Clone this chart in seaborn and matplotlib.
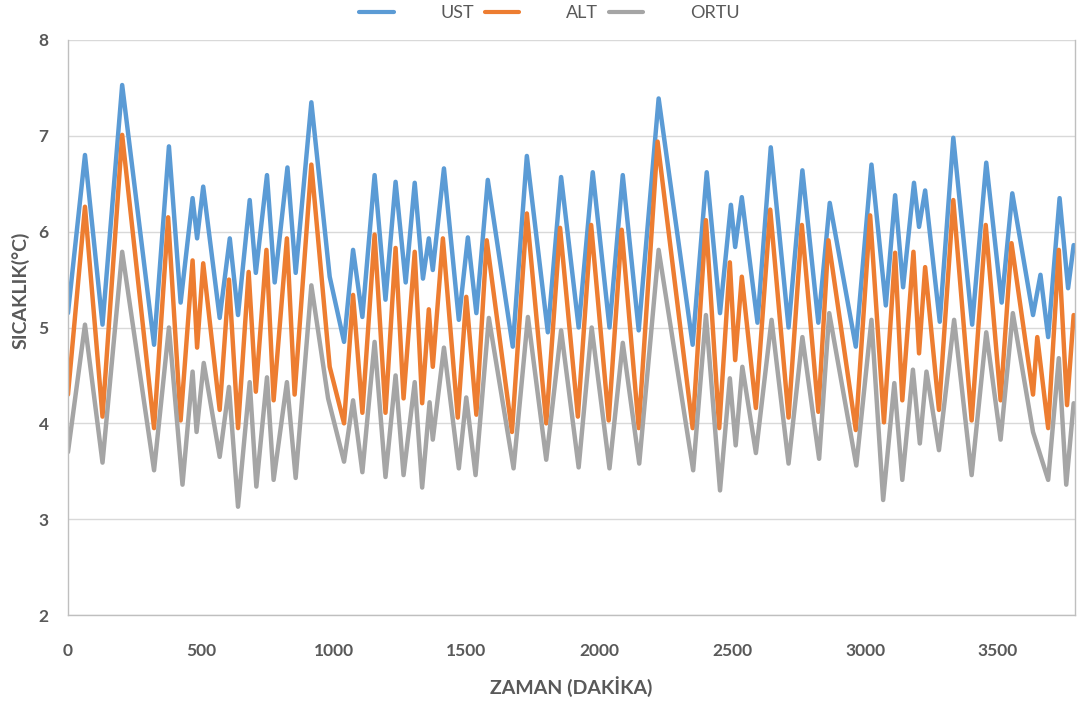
import matplotlib
matplotlib.use("Agg")
import matplotlib.pyplot as plt
import seaborn as sns
import pandas as pd
from matplotlib.lines import Line2D

# Temperature readings (minute, °C) at the turning points of each sensor trace
ust = [(0, 5.15), (64, 6.8), (130, 5.03), (204, 7.53), (324, 4.82), (380, 6.89), (424, 5.26),
       (469, 6.35), (486, 5.93), (509, 6.47), (571, 5.1), (609, 5.93), (640, 5.13), (684, 6.33),
       (707, 5.57), (749, 6.59), (778, 5.47), (826, 6.67), (857, 5.57), (916, 7.35), (985, 5.53),
       (1039, 4.85), (1073, 5.81), (1108, 5.11), (1154, 6.59), (1195, 5.29), (1233, 6.52),
       (1271, 5.47), (1305, 6.51), (1336, 5.51), (1358, 5.93), (1373, 5.6), (1415, 6.66),
       (1471, 5.08), (1505, 5.94), (1537, 5.15), (1580, 6.54), (1674, 4.8), (1727, 6.79),
       (1806, 4.95), (1856, 6.57), (1922, 5.0), (1975, 6.62), (2038, 5.0), (2088, 6.59),
       (2148, 4.97), (2223, 7.39), (2351, 4.82), (2404, 6.62), (2454, 5.15), (2495, 6.28),
       (2511, 5.84), (2536, 6.36), (2595, 5.05), (2645, 6.88), (2712, 5.0), (2764, 6.64),
       (2824, 5.05), (2867, 6.3), (2965, 4.8), (3024, 6.7), (3078, 5.23), (3113, 6.38),
       (3143, 5.42), (3184, 6.51), (3203, 6.05), (3226, 6.43), (3281, 5.06), (3332, 6.98),
       (3403, 5.03), (3456, 6.72), (3514, 5.26), (3554, 6.4), (3632, 5.13), (3660, 5.55),
       (3689, 4.9), (3732, 6.35), (3764, 5.41), (3785, 5.86)]

alt = [(0, 4.3), (64, 6.26), (130, 4.07), (204, 7.01), (324, 3.95), (377, 6.15), (424, 4.03),
       (469, 5.7), (486, 4.79), (509, 5.67), (571, 4.14), (606, 5.5), (640, 3.95), (680, 5.58),
       (707, 4.33), (747, 5.81), (774, 4.24), (824, 5.93), (853, 4.3), (916, 6.7), (985, 4.59),
       (1039, 4.0), (1073, 5.34), (1108, 4.11), (1154, 5.97), (1195, 4.11), (1233, 5.83),
       (1263, 4.26), (1305, 5.79), (1333, 4.21), (1358, 5.19), (1373, 4.59), (1411, 5.93),
       (1467, 4.06), (1499, 5.32), (1537, 4.09), (1576, 5.91), (1671, 3.91), (1727, 6.19),
       (1800, 4.0), (1852, 6.04), (1919, 4.07), (1969, 6.07), (2035, 4.03), (2084, 6.02),
       (2148, 3.95), (2219, 6.94), (2351, 3.95), (2401, 6.12), (2451, 3.95), (2491, 5.68),
       (2511, 4.66), (2536, 5.53), (2589, 4.16), (2643, 6.23), (2712, 4.06), (2762, 6.07),
       (2824, 4.12), (2862, 5.91), (2965, 3.93), (3019, 6.17), (3071, 4.01), (3113, 5.78),
       (3140, 4.24), (3182, 5.79), (3203, 4.73), (3226, 5.63), (3278, 4.14), (3332, 6.33),
       (3401, 4.03), (3454, 6.07), (3510, 4.24), (3551, 5.88), (3632, 4.3), (3648, 4.9),
       (3689, 3.95), (3729, 5.81), (3760, 4.19), (3785, 5.13)]

ortu = [(0, 3.7), (64, 5.03), (130, 3.59), (204, 5.79), (324, 3.51), (380, 5.0), (431, 3.36),
        (469, 4.54), (484, 3.91), (511, 4.63), (571, 3.65), (606, 4.38), (640, 3.13), (684, 4.43),
        (709, 3.34), (749, 4.48), (774, 3.41), (824, 4.43), (857, 3.43), (916, 5.44), (979, 4.26),
        (1039, 3.6), (1073, 4.24), (1108, 3.49), (1154, 4.85), (1195, 3.44), (1233, 4.5),
        (1263, 3.46), (1305, 4.43), (1333, 3.33), (1361, 4.22), (1373, 3.83), (1415, 4.79),
        (1471, 3.53), (1499, 4.27), (1534, 3.46), (1584, 5.1), (1677, 3.53), (1731, 5.11),
        (1800, 3.62), (1856, 4.97), (1922, 3.54), (1971, 5.0), (2038, 3.53), (2088, 4.84),
        (2150, 3.58), (2223, 5.81), (2353, 3.51), (2401, 5.13), (2454, 3.3), (2491, 4.47),
        (2513, 3.77), (2538, 4.59), (2589, 3.69), (2648, 5.08), (2712, 3.58), (2764, 4.9),
        (2827, 3.63), (2865, 5.15), (2967, 3.56), (3024, 5.08), (3068, 3.2), (3110, 4.42),
        (3140, 3.41), (3180, 4.56), (3206, 3.79), (3231, 4.54), (3278, 3.72), (3335, 5.08),
        (3401, 3.46), (3456, 4.95), (3510, 3.83), (3556, 5.15), (3632, 3.91), (3689, 3.41),
        (3729, 4.68), (3757, 3.36), (3785, 4.21)]

series_names = ["UST", "ALT", "ORTU"]
series_colors = ["#5B9BD5", "#ED7D31", "#A5A5A5"]
x_ticks = [0, 500, 1000, 1500, 2000, 2500, 3000, 3500]
y_ticks = [2, 3, 4, 5, 6, 7, 8]

frames = []
for name, pts in zip(series_names, [ust, alt, ortu]):
    t, v = zip(*pts)
    frames.append(pd.DataFrame({"t": t, "v": v, "seri": name}))
df = pd.concat(frames, ignore_index=True)

sns.set_theme(style="white")
plt.rcParams["font.family"] = ["Lato", "DejaVu Sans"]

txt = "#595959"
fig = plt.figure(figsize=(10.84, 7.04), dpi=100)
ax = fig.add_axes([0.0627, 0.1264, 0.929, 0.8168])

sns.lineplot(data=df, x="t", y="v", hue="seri", hue_order=series_names,
             palette=series_colors, estimator=None, sort=False, linewidth=3.2,
             legend=False, ax=ax)
for line in ax.get_lines():
    line.set_solid_joinstyle("round")
    line.set_solid_capstyle("round")

ax.set_xlim(0, 3790)
ax.set_ylim(2, 8)
ax.set_xticks(x_ticks)
ax.set_yticks(y_ticks)
ax.grid(axis="y", color="#D9D9D9", linewidth=1.0)
ax.set_axisbelow(True)
for side in ["left", "bottom", "right"]:
    ax.spines[side].set_color("#BFBFBF")
    ax.spines[side].set_linewidth(1.0)
ax.spines["top"].set_visible(False)

ax.tick_params(axis="x", length=0, pad=20, labelsize=12.5, labelcolor=txt)
ax.tick_params(axis="y", length=0, pad=14, labelsize=12.5, labelcolor=txt)
for lab in ax.get_xticklabels() + ax.get_yticklabels():
    lab.set_fontweight("bold")

ax.set_xlabel("ZAMAN (DAKİKA)", fontsize=14, fontweight="bold", color=txt)
ax.set_ylabel("SICAKLIK(°C)", fontsize=14, fontweight="bold", color=txt)
ax.xaxis.label.set_va("center")
ax.xaxis.set_label_coords(0.50, -0.125)
ax.yaxis.set_label_coords(-0.038, 0.565)

handles = [Line2D([], [], color=c, linewidth=3) for c in series_colors]
fig.legend(handles, series_names, loc="center", bbox_to_anchor=(0.507, 0.981), ncol=3,
           frameon=False, fontsize=13, labelcolor=txt, handlelength=1.9,
           handletextpad=2.6, columnspacing=0.6)

fig.savefig("out.png", dpi=100, facecolor="white")
